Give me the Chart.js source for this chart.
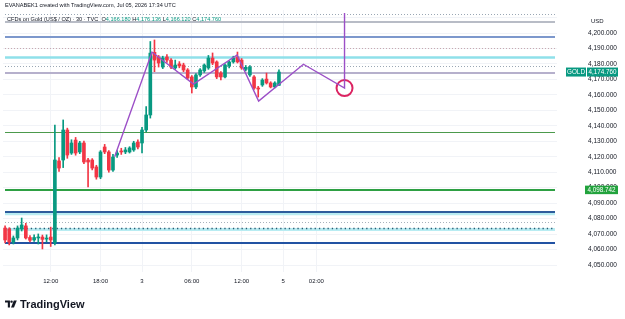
<!DOCTYPE html>
<html><head><meta charset="utf-8">
<script src="https://cdn.jsdelivr.net/npm/chart.js@4.4.1/dist/chart.umd.min.js"></script>
<style>
html,body{margin:0;padding:0;background:#fff;}
#wrap{position:relative;width:625px;height:319px;overflow:hidden;font-family:"Liberation Sans",Arial,sans-serif;}
#c{position:absolute;left:0;top:0;}
.t{position:absolute;white-space:nowrap;color:#131722;}
#h1{left:5px;top:2px;font-size:5.6px;}
#h2{left:7px;top:16px;font-size:5.6px;}
#h2 b{font-weight:normal;color:#089981;}
#usd{left:591px;top:18px;font-size:6px;}
#logo{left:5px;top:298px;font-size:11px;font-weight:bold;display:flex;align-items:center;gap:3px;}
</style></head>
<body>
<div id="wrap">
<canvas id="c" width="625" height="319"></canvas>
<div class="t" id="h1">EVANABEK1 created with TradingView.com, Jul 05, 2026 17:34 UTC</div>
<div class="t" id="h2"></div>
<div class="t" id="usd">USD</div>
<div class="t" id="logo"><svg width="12" height="8" viewBox="0 0 17 10"><path d="M0 0h7v10H4V3H0z" fill="#131722"/><circle cx="9.3" cy="1.7" r="1.7" fill="#131722"/><path d="M12.5 0h4.2l-4 10H8.5z" fill="#131722"/></svg><span>TradingView</span></div>
</div>
<script>
// ---- data ----
const tickIdx = [11, 23, 33, 45, 57, 67, 75];
const tickLabels = ['12:00', '18:00', '3', '06:00', '12:00', '5', '02:00'];

const opens = [4073.9,4073.3,4064.9,4067.5,4073.3,4075.3,4067.8,4066.2,4067.5,4068.1,4066.8,4068.1,4064.3,4117.3,4117.9,4137.3,4122.4,4130.8,4123.1,4128.9,4117.9,4117.9,4113.4,4106.9,4126.3,4123.1,4111.4,4121.1,4123.7,4123.1,4123.1,4124.4,4129.5,4128.9,4137.3,4147.0,4187.5,4184.5,4178.0,4184.5,4182.5,4177.4,4180.0,4179.3,4176.1,4171.6,4165.1,4172.9,4175.5,4177.4,4183.8,4181.3,4174.1,4171.6,4178.7,4181.3,4184.5,4182.5,4176.5,4172.9,4171.6,4164.4,4166.4,4170.2,4167.7,4165.1,4166.18];
const highs = [4075.3,4074.1,4068.8,4075.3,4080.4,4077.0,4069.0,4069.5,4070.1,4069.4,4069.5,4074.5,4140.5,4119.5,4143.8,4138.5,4131.0,4132.5,4130.0,4130.2,4119.0,4118.8,4114.5,4124.0,4128.0,4124.0,4121.5,4124.0,4125.5,4126.0,4126.5,4130.0,4131.0,4139.0,4152.5,4194.5,4195.5,4185.5,4185.0,4186.0,4183.5,4182.5,4181.5,4180.5,4177.0,4172.5,4173.8,4177.0,4180.0,4185.5,4187.1,4182.0,4175.0,4180.0,4182.0,4185.0,4187.7,4183.5,4179.0,4179.0,4172.5,4165.5,4170.5,4174.1,4168.5,4168.5,4176.136];
const lows = [4064.3,4063.0,4063.6,4066.2,4072.0,4066.8,4064.9,4065.2,4063.6,4060.4,4065.0,4062.0,4063.0,4110.5,4113.0,4119.0,4121.5,4121.0,4122.0,4115.5,4100.5,4111.5,4105.5,4105.8,4122.0,4110.0,4110.5,4119.5,4121.5,4122.0,4122.4,4123.5,4125.0,4122.4,4136.0,4145.0,4175.0,4178.0,4177.0,4181.0,4177.0,4176.5,4177.5,4175.0,4170.0,4161.2,4164.0,4172.0,4174.5,4176.5,4179.5,4170.5,4169.6,4171.0,4177.5,4180.5,4180.6,4176.5,4175.5,4172.0,4163.5,4158.6,4165.5,4167.0,4164.5,4164.5,4166.12];
const closes = [4066.2,4064.9,4067.5,4073.9,4075.9,4067.5,4066.0,4067.8,4068.1,4066.6,4067.2,4066.2,4117.9,4112.7,4137.3,4121.1,4128.9,4122.4,4128.9,4116.6,4116.6,4112.7,4106.9,4123.1,4123.1,4111.4,4119.8,4122.4,4123.1,4124.4,4125.7,4128.9,4126.3,4137.3,4147.0,4187.0,4182.5,4180.6,4183.8,4182.5,4178.0,4179.3,4178.7,4176.1,4170.9,4165.1,4172.9,4176.1,4179.3,4183.8,4180.6,4171.6,4171.6,4179.3,4181.3,4183.8,4181.3,4177.4,4177.8,4178.0,4164.4,4163.8,4169.6,4167.7,4165.1,4167.7,4174.76];

// zigzag drawing (bar index, price)
const zigX = [26.4, 35.4, 45.4, 55.9, 61.1, 71.9, 81.8, 81.8];
const zigY = [4120.0, 4187.7, 4167.0, 4185.8, 4156.0, 4179.8, 4164.4, 4212.9];
const circleX = [81.8];
const circleY = [4164.4];

// horizontal levels (prices)
const levelPrices = [4212.3, 4207.3, 4197.6, 4190.5, 4184.7, 4178.9, 4173.9, 4135.8, 4098.742, 4083.4, 4084.5, 4078.0, 4073.6, 4074.1, 4064.0];
const greenLevel = 4098.742;

// ---- styles (kept apart from data) ----
const levelStyles = [
  {c:'#9aa7b4', w:1, d:[1,2]},
  {c:'#b8bcc6', w:2, d:[]},
  {c:'#7d98cc', w:2, d:[]},
  {c:'#c8a9b0', w:1, d:[1,2]},
  {c:'#8fe0ea', w:2.5, d:[]},
  {c:'#9aa7b4', w:1, d:[1,2]},
  {c:'#b6b0cc', w:2, d:[]},
  {c:'#4c9a4c', w:1, d:[]},
  {c:'#2ea043', w:2, d:[]},
  {c:'#b8ecf2', w:3.5, d:[]},
  {c:'#2d5c9c', w:2, d:[]},
  {c:'#a8b2bc', w:1, d:[1,2]},
  {c:'#b8ecf2', w:3, d:[]},
  {c:'#2b5870', w:1.3, d:[1.3,3]},
  {c:'#2152a3', w:2, d:[]}
];
const UP = '#089981', DOWN = '#f23645';

const fmt = v => v.toLocaleString('en-US', {minimumFractionDigits:3, maximumFractionDigits:3});
const last = closes.length - 1;
const idx = closes.map((_, i) => i);
const barColors = idx.map(i => closes[i] >= opens[i] ? UP : DOWN);

document.getElementById('h2').innerHTML =
  'CFDs on Gold (US$ / OZ) · 30 · TVC&nbsp; O<b>' + fmt(opens[last]) + '</b> H<b>' + fmt(highs[last]) +
  '</b> L<b>' + fmt(lows[last]) + '</b> C<b>' + fmt(closes[last]) + '</b>';

const levelsPlugin = {
  id: 'levels',
  beforeDatasetsDraw(chart) {
    const {ctx, chartArea: a} = chart;
    const ys = chart.scales.y;
    ctx.save();
    levelPrices.forEach((p, k) => {
      const s = levelStyles[k];
      const y = Math.round(ys.getPixelForValue(p)) + (s.w % 2 ? 0.5 : 0);
      ctx.beginPath();
      ctx.strokeStyle = s.c; ctx.lineWidth = s.w; ctx.setLineDash(s.d);
      ctx.moveTo(a.left + 2, y); ctx.lineTo(a.right - 2, y); ctx.stroke();
    });
    ctx.restore();
  }
};

const labelsPlugin = {
  id: 'pricelabels',
  afterDraw(chart) {
    const {ctx, chartArea: a} = chart;
    const ys = chart.scales.y;
    ctx.save();
    ctx.font = '6.3px "Liberation Sans", Arial, sans-serif';
    ctx.textBaseline = 'middle';
    let y = ys.getPixelForValue(closes[last]);
    ctx.fillStyle = UP;
    ctx.fillRect(a.right + 9, y - 4.5, 20, 9);
    ctx.fillRect(a.right + 30, y - 4.5, 31, 9);
    ctx.fillStyle = '#fff';
    ctx.textAlign = 'center';
    ctx.fillText('GOLD', a.right + 19, y + 0.5);
    ctx.fillText(fmt(closes[last]), a.right + 45.5, y + 0.5);
    y = ys.getPixelForValue(greenLevel);
    ctx.fillStyle = '#22a33d';
    ctx.fillRect(a.right + 28, y - 4, 33, 8.5);
    ctx.fillStyle = '#fff';
    ctx.fillText(fmt(greenLevel), a.right + 44.5, y + 0.5);
    ctx.restore();
  }
};

new Chart(document.getElementById('c'), {
  type: 'bar',
  data: {
    datasets: [
      {type:'line', data: zigX.map((x, k) => ({x, y: zigY[k]})), borderColor:'#9c4fc7', borderWidth:1.4,
       pointRadius:0, tension:0, order:0},
      {type:'scatter', data: circleX.map((x, k) => ({x, y: circleY[k]})), pointRadius:8, pointBorderWidth:2,
       borderColor:'#dc2462', pointBorderColor:'#dc2462', backgroundColor:'rgba(0,0,0,0)', order:0},
      {type:'bar', data: idx.map(i => ({x:i, y:[opens[i], closes[i]]})), backgroundColor: barColors,
       barThickness:3, minBarLength:1, grouped:false, borderWidth:0, order:1},
      {type:'bar', data: idx.map(i => ({x:i, y:[lows[i], highs[i]]})), backgroundColor: barColors,
       barThickness:1, grouped:false, borderWidth:0, order:2}
    ]
  },
  options: {
    responsive:false, animation:false, devicePixelRatio:1,
    layout:{autoPadding:false, padding:{left:3, top:10, right:0, bottom:27}},
    plugins:{legend:{display:false}, tooltip:{enabled:false}},
    scales:{
      x:{type:'linear', min:-0.5, max:133, offset:false,
         afterBuildTicks: s => { s.ticks = tickIdx.map(v => ({value:v})); },
         ticks:{callback: v => { const k = tickIdx.indexOf(v); return k >= 0 ? tickLabels[k] : ''; },
                autoSkip:false, maxRotation:0, padding:6, color:'#131722',
                font:{family:'"Liberation Sans", Arial, sans-serif', size:6}},
         grid:{color:'#f1f3f7', drawTicks:false, offset:false}, border:{display:false},
         afterFit: s => { s.height = 20; }},
      y:{type:'linear', position:'right', min:4045.5, max:4214.87,
         ticks:{stepSize:10, includeBounds:false,
                callback: v => (v >= 4050 && v <= 4200) ? fmt(v) : '',
                padding:2, color:'#131722',
                font:{family:'"Liberation Sans", Arial, sans-serif', size:6.5}},
         grid:{color:'#f1f3f7', drawTicks:true, tickLength:29, tickColor:'rgba(0,0,0,0)'}, border:{display:false},
         afterFit: s => { s.width = 68; }}
    }
  },
  plugins:[levelsPlugin, labelsPlugin]
});
</script>
</body></html>
